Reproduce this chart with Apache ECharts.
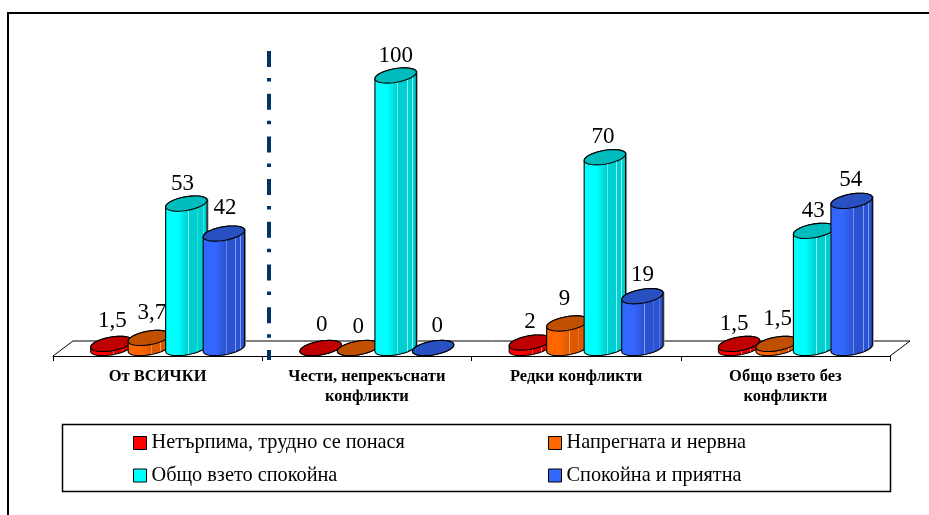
<!DOCTYPE html>
<html>
<head>
<meta charset="utf-8">
<style>
  html, body { margin: 0; padding: 0; background: #fff; }
  #chart { width: 929px; height: 515px; }
</style>
<script src="https://cdn.jsdelivr.net/npm/echarts@6/dist/echarts.min.js"></script>
</head>
<body>
<div id="chart"></div>
<script>
  const categories = ['От ВСИЧКИ', 'Чести, непрекъснати\nконфликти', 'Редки конфликти', 'Общо взето без\nконфликти'];
  const seriesNames = ['Нетърпима, трудно се понася', 'Напрегната и нервна', 'Общо взето спокойна', 'Спокойна и приятна'];
  const intolerable = [1.5, 0, 2, 1.5];
  const tense = [3.7, 0, 9, 1.5];
  const calm = [53, 100, 70, 43];
  const pleasant = [42, 0, 19, 54];
  const valueLabels = [
    ['1,5', '0', '2', '1,5'],
    ['3,7', '0', '9', '1,5'],
    ['53', '100', '70', '43'],
    ['42', '0', '19', '54']
  ];

  const serif = '"Liberation Serif", "Times New Roman", serif';
  // side colours: base, stripe, dark edge, top cap
  const palette = [
    { base: '#ff0000', stripe: '#ff7070', dark: '#e00000', top: '#c00000' },
    { base: '#ff6600', stripe: '#ffa060', dark: '#dd5a00', top: '#c05000' },
    { base: '#00ffff', stripe: '#90ffff', dark: '#00cfcf', top: '#00bdbd' },
    { base: '#3366ff', stripe: '#7f9fff', dark: '#2b52cf', top: '#2850c0' }
  ];
  // hand adjustments of the value labels, [dx, dy] per series and category
  const labelNudge = [
    [[1, 0], [1, 0], [0, 2], [-5, 3]],
    [[3, -2], [0, 2], [-3, -2], [1, -2]],
    [[-4, 3], [0, 3], [-2, 3], [-1, 3]],
    [[1, -3], [4, 1], [0, 2], [-1, 2]]
  ];

  const RX = 21, RY = 6.8, ROT = -10 * Math.PI / 180;
  const DEPTH_X = 10, DEPTH_Y = -8, STEP = 37.5;

  function ellipsePts(cx, cy, t0, t1) {
    let pts = [];
    for (let i = 0; i <= 40; i++) {
      let t = t0 + (t1 - t0) * i / 40;
      let ex = RX * Math.cos(t), ey = RY * Math.sin(t);
      pts.push([cx + ex * Math.cos(ROT) - ey * Math.sin(ROT), cy + ex * Math.sin(ROT) + ey * Math.cos(ROT)]);
    }
    return pts;
  }

  function sideFill(c) {
    return new echarts.graphic.LinearGradient(0, 0, 1, 0, [
      { offset: 0, color: c.base }, { offset: 0.3, color: c.base },
      { offset: 0.54, color: c.dark }, { offset: 0.545, color: c.stripe }, { offset: 0.56, color: c.stripe },
      { offset: 0.565, color: c.dark }, { offset: 0.76, color: c.dark },
      { offset: 0.765, color: c.stripe }, { offset: 0.78, color: c.stripe },
      { offset: 0.785, color: c.dark }, { offset: 0.88, color: c.dark },
      { offset: 0.885, color: c.stripe }, { offset: 0.9, color: c.stripe },
      { offset: 0.905, color: c.dark }, { offset: 1, color: c.dark }
    ]);
  }

  function cylinder(s, c) {
    return function (params, api) {
      let catIdx = api.value(0), val = api.value(1);
      let base = api.coord([catIdx, 0]);
      let top = api.coord([catIdx, val]);
      let cx = base[0] + DEPTH_X + (s - 1.5) * STEP;
      let by = base[1] + DEPTH_Y;
      let ty = top[1] + DEPTH_Y;
      // left and right extremes of the tilted ellipse
      let tR = Math.atan2(-RY * Math.sin(ROT), RX * Math.cos(ROT));
      let body = ellipsePts(cx, by, tR, tR + Math.PI).concat(ellipsePts(cx, ty, tR + Math.PI, tR + 2 * Math.PI));
      let edge = { stroke: '#000', lineWidth: 1.1 };
      let shadow = body.map(p => [p[0] + 1.5, p[1]]);
      let nudge = labelNudge[s][catIdx];
      return {
        type: 'group',
        children: [
          { type: 'polygon', shape: { points: shadow }, style: { fill: val > 3 ? '#a0a0a0' : 'transparent' } },
          { type: 'polygon', shape: { points: body }, style: Object.assign({ fill: sideFill(c) }, edge) },
          { type: 'polygon', shape: { points: ellipsePts(cx, ty, 0, 2 * Math.PI) }, style: Object.assign({ fill: c.top }, edge) },
          {
            type: 'text',
            z2: 50,
            style: {
              x: cx + nudge[0],
              y: ty - 23 + nudge[1],
              text: valueLabels[s][catIdx],
              fill: '#000',
              font: '23px ' + serif,
              align: 'center',
              verticalAlign: 'middle'
            }
          }
        ]
      };
    };
  }

  // floor plane behind the bars
  function renderFloor(params, api) {
    let band = api.size([1, 0])[0];
    let first = api.coord([0, 0]);
    let last = api.coord([categories.length - 1, 0]);
    let a = [first[0] - band / 2, first[1]];
    let b = [last[0] + band / 2, last[1]];
    return {
      type: 'polyline',
      shape: { points: [a, [a[0] + 20, a[1] - 15], [b[0] + 20, b[1] - 15], b] },
      style: { fill: 'none', stroke: '#000', lineWidth: 1 }
    };
  }

  const seriesValues = [intolerable, tense, calm, pleasant];
  let series = [{
    type: 'custom',
    silent: true,
    renderItem: renderFloor,
    data: [[0, 0]],
    encode: { x: 0, y: 1 },
    clip: false,
    z: 1
  }];
  seriesValues.forEach((vals, s) => {
    series.push({
      type: 'custom',
      name: seriesNames[s],
      silent: true,
      itemStyle: { color: palette[s].base },
      renderItem: cylinder(s, palette[s]),
      data: vals.map((v, i) => [i, v]),
      encode: { x: 0, y: 1 },
      clip: false,
      z: 2 + s
    });
  });

  const legendBase = {
    orient: 'vertical',
    icon: 'rect',
    padding: 0,
    itemWidth: 13,
    itemHeight: 13,
    itemGap: 12.5,
    selectedMode: false,
    itemStyle: { borderColor: '#000', borderWidth: 1 },
    textStyle: { fontFamily: serif, fontSize: 20.3, color: '#000' }
  };

  let myChart = echarts.init(document.getElementById('chart'), null, { renderer: 'canvas' });
  myChart.setOption({
    animation: false,
    backgroundColor: '#fff',
    grid: { left: 53, right: 39, top: 83.5, height: 272.5 },
    xAxis: {
      type: 'category',
      data: categories,
      axisLine: { lineStyle: { color: '#000', width: 1 } },
      axisTick: { show: true, length: 5, lineStyle: { color: '#000' } },
      axisLabel: {
        fontFamily: serif,
        fontWeight: 'bold',
        fontSize: 16.5,
        color: '#000',
        margin: 11,
        lineHeight: 20,
        interval: 0
      }
    },
    yAxis: { type: 'value', min: 0, max: 100, show: false },
    legend: [
      Object.assign({ left: 133, top: 433, data: [seriesNames[0], seriesNames[2]] }, legendBase),
      Object.assign({ left: 548, top: 433, data: [seriesNames[1], seriesNames[3]] }, legendBase)
    ],
    graphic: [
      { type: 'polyline', z: -1, shape: { points: [[8, 515], [8, 13], [929, 13]] }, style: { fill: 'none', stroke: '#000', lineWidth: 2 } },
      { type: 'rect', z: -1, shape: { x: 62.5, y: 424.5, width: 828, height: 67 }, style: { fill: 'none', stroke: '#000', lineWidth: 1.5 } },
      { type: 'line', z: 20, shape: { x1: 269, y1: 51, x2: 269, y2: 360 }, style: { stroke: '#003366', lineWidth: 4, lineDash: [16, 11, 3.5, 12.2] } }
    ],
    series: series
  });
</script>
</body>
</html>
